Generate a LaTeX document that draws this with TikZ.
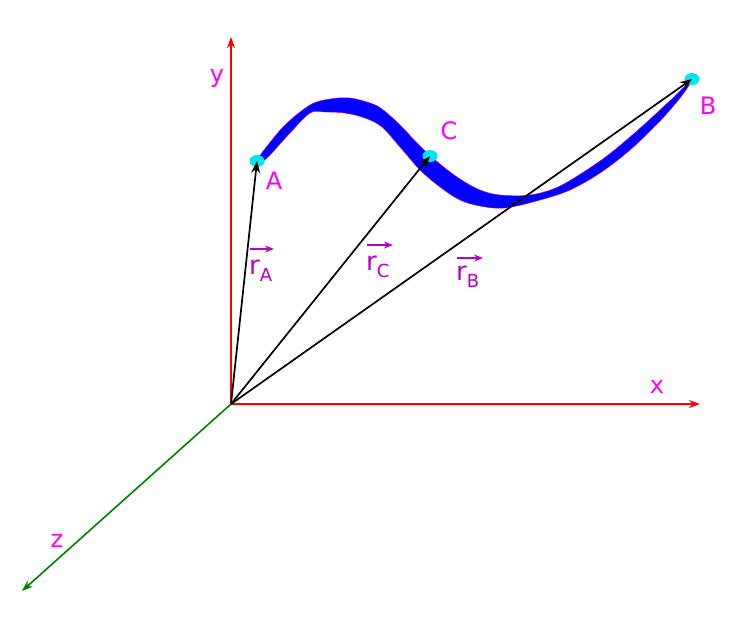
\documentclass[tikz,border=0pt]{standalone}
\usepackage{fontspec}
\setmainfont{DejaVu Sans}
\usetikzlibrary{arrows.meta,shapes.geometric}
\definecolor{lab}{RGB}{255,0,255}
\definecolor{vlab}{RGB}{180,0,200}
\definecolor{dot}{RGB}{0,230,240}
\definecolor{axz}{RGB}{0,128,0}
\begin{document}
\begin{tikzpicture}[x=1pt,y=-1pt,
  axis/.style={line width=1.6pt,-{Stealth[length=11pt,width=8pt]}},
  vec/.style={line width=1.7pt,-{Stealth[length=12pt,width=9pt]}},
  pt/.style={ellipse,fill=dot,inner sep=0pt,minimum width=15pt,minimum height=12pt},
  lbl/.style={text=lab,font=\fontsize{24}{28}\selectfont,inner sep=0pt},
  rlbl/.style={text=vlab,font=\fontsize{26}{30}\selectfont,inner sep=0pt},
  rarr/.style={draw=vlab,line width=1.6pt,-{Stealth[length=9pt,width=7pt]}}]
\useasboundingbox (0,0) rectangle (754,630);
\coordinate (O) at (231,404);
\coordinate (yend) at (231,37);
\coordinate (xend) at (700,404);
\coordinate (zend) at (22,591);
% axes
\draw[axis,red] (O) -- (yend);
\draw[axis,red] (O) -- (xend);
\draw[axis,axz] (O) -- (zend);
% ribbon
\fill[blue,draw=vlab,line width=0.4pt]
  plot[smooth,tension=0.55] coordinates {(258,158) (283,127) (310,105) (330,99) (350,98) (370,103) (382,109) (400,125) (420,146) (440,164) (460,179) (480,190) (500,195) (530,195) (560,186) (600,161) (630,137) (660,110) (680,91) (692,78)}
  -- plot[smooth,tension=0.55] coordinates {(692,81) (680,98) (660,121) (630,150) (600,173) (570,190) (540,200) (505,208) (480,206) (460,200) (440,187) (420,170) (400,147) (382,127) (365,118) (345,113) (325,112) (310,113) (290,133) (270,155) (261,163)}
  -- cycle;
% points
\node[pt] (A) at (257,161) {};
\node[pt] (C) at (430,156) {};
\node[pt] (B) at (692,79) {};
% vectors
\draw[vec] (O) -- (A.center);
\draw[vec] (O) -- (C.center);
\draw[vec] (O) -- (B.center);
% labels
\node[lbl] (ly) at (217,78) {y};
\node[lbl] (lx) at (657,387) {x};
\node[lbl] (lz) at (57,541) {z};
\node[lbl] (lA) at (274,181) {A};
\node[lbl] (lB) at (708,106) {B};
\node[lbl] (lC) at (449,131) {C};
\node[rlbl,anchor=base west] (rA) at (249,274) {r\raisebox{-0.3em}{\fontsize{18}{18}\selectfont A}};
\node[rlbl,anchor=base west] (rC) at (366,270) {r\raisebox{-0.3em}{\fontsize{18}{18}\selectfont C}};
\node[rlbl,anchor=base west] (rB) at (456,280) {r\raisebox{-0.3em}{\fontsize{18}{18}\selectfont B}};
\coordinate (rA1) at (250,249); \coordinate (rA2) at (274,249);
\coordinate (rC1) at (367,245); \coordinate (rC2) at (393,245);
\coordinate (rB1) at (457,258); \coordinate (rB2) at (483,258);
\draw[rarr] (rA1) -- (rA2);
\draw[rarr] (rC1) -- (rC2);
\draw[rarr] (rB1) -- (rB2);
\end{tikzpicture}
\end{document}
